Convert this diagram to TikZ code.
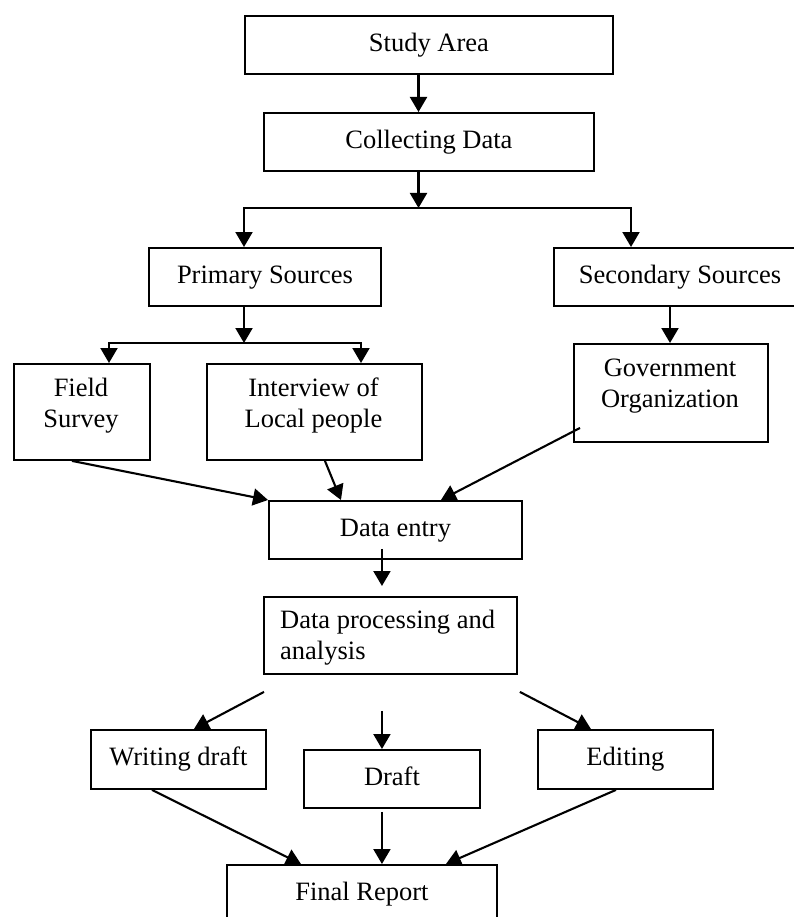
\documentclass[tikz,border=0pt]{standalone}
\usepackage{fontspec}
\setmainfont{Liberation Serif}
\usetikzlibrary{arrows.meta}
\begin{document}
\begin{tikzpicture}[x=1pt,y=-1pt,
  box/.style={draw, line width=1.9pt, inner sep=0pt, anchor=north west,
    font=\fontsize{26.5}{31}\selectfont, text height=18.5pt, text depth=6pt},
  lbl/.style={font=\fontsize{26.5}{31}\selectfont, inner sep=0pt},
  arr/.style={line width=2.1pt, -{Triangle[length=15pt,width=17pt]}}]
\useasboundingbox (0,0) rectangle (793,917);

% boxes
\node[box, minimum width=368pt, minimum height=58pt] (study)     at (244,15)  {Study Area};
\node[box, minimum width=330pt, minimum height=58pt] (collect)   at (263,112) {Collecting Data};
\node[box, minimum width=232pt, minimum height=58pt] (primary)   at (148,247) {Primary Sources};
\node[box, minimum width=252pt, minimum height=58pt] (secondary) at (553,247) {Secondary Sources};
\node[box, minimum width=136pt, minimum height=96pt] (field)     at (13,363)  {};
\node[box, minimum width=215pt, minimum height=96pt] (interview) at (206,363) {};
\node[box, minimum width=194pt, minimum height=98pt] (gov)       at (573,343) {};
\node[box, minimum width=253pt, minimum height=58pt] (entry)     at (268,500) {Data entry};
\node[box, minimum width=253pt, minimum height=77pt] (proc)      at (263,596) {};
\node[box, minimum width=175pt, minimum height=59pt] (writing)   at (90,729)  {Writing draft};
\node[box, minimum width=176pt, minimum height=58pt] (draft)     at (303,749) {Draft};
\node[box, minimum width=175pt, minimum height=59pt] (editing)   at (537,729) {Editing};
\node[box, minimum width=270pt, minimum height=58pt] (final)     at (226,864) {Final Report};

% multi-line texts (anchored at the baseline of the last line)
\node[lbl, anchor=base, align=center] (fieldtext)     at (81,427)    {Field\\Survey};
\node[lbl, anchor=base, align=center] (interviewtext) at (313.5,427) {Interview of\\Local people};
\node[lbl, anchor=base, align=center] (govtext)       at (670,407)   {Government\\Organization};
\node[lbl, anchor=base west, align=left] (proctext)   at (280,659)   {Data processing and\\analysis};

% helper coordinates
\coordinate (xA) at (418.5,0);
\coordinate (jTop) at (418.5,208);
\coordinate (xP) at (244,0);
\coordinate (xS) at (631,0);
\coordinate (jMid) at (244,343);
\coordinate (xF) at (109,0);
\coordinate (xI) at (361,0);
\coordinate (xG) at (670,0);

% connectors
\draw[arr] (study.south -| xA) -- (collect.north -| xA);
\draw[arr] (collect.south -| xA) -- (jTop);
\draw[arr] (jTop) -| (primary.north -| xP);
\draw[arr] (jTop) -| (secondary.north -| xS);
\draw[arr] (primary.south -| xP) -- (jMid);
\draw[arr] (jMid) -| (field.north -| xF);
\draw[arr] (jMid) -| (interview.north -| xI);
\draw[arr] (secondary.south -| xG) -- (gov.north -| xG);

\draw[arr] ([xshift=-10pt]field.south) -- (entry.north west);
\draw[arr] ([xshift=10.5pt]interview.south) -- ([xshift=-54.5pt]entry.north);
\draw[arr] ([xshift=7pt,yshift=-35pt]gov.west) -- ([xshift=45.5pt]entry.north);

\draw[arr] ([xshift=-13.5pt,yshift=11pt]entry.south) -- ([xshift=-8.5pt,yshift=10pt]proc.north);

\draw[arr] ([xshift=1pt,yshift=-17pt]proc.south west) -- ([xshift=15.5pt]writing.north);
\draw[arr] ([xshift=-8.5pt,yshift=-36pt]proc.south) -- ([xshift=-10pt]draft.north);
\draw[arr] ([xshift=2pt,yshift=-17pt]proc.south east) -- ([xshift=-34.5pt]editing.north);

\draw[arr] ([xshift=-26.5pt]writing.south) -- ([xshift=-61pt]final.north);
\draw[arr] ([xshift=-10pt,yshift=-3pt]draft.south) -- ([xshift=20pt]final.north);
\draw[arr] ([xshift=-9.5pt]editing.south) -- ([xshift=84pt]final.north);
\end{tikzpicture}
\end{document}
